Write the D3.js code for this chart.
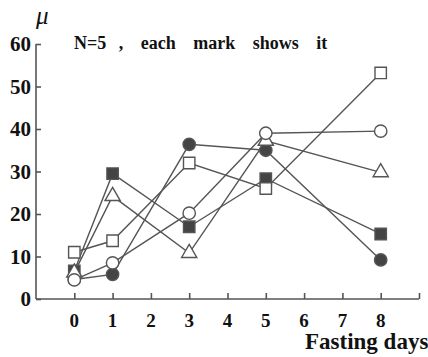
<!DOCTYPE html>
<meta charset="utf-8">
<head>
  <title>Fasting days</title>
</head>
<style>
body { margin: 0; background: #fff; }
text { font-family: "Liberation Serif", "DejaVu Serif", serif; font-weight: bold; fill: #111; }
.axis path, .axis line { stroke: #555; stroke-width: 1.6px; }
.series { fill: none; stroke: #555; stroke-width: 1.4px; }
</style>
<body>
<svg width="428" height="357"></svg>
<script src="https://cdnjs.cloudflare.com/ajax/libs/d3/7.8.5/d3.min.js"></script>
<script>
var days = [0, 1, 3, 5, 8];
var xTicks = [0, 1, 2, 3, 4, 5, 6, 7, 8];
var yTicks = [0, 10, 20, 30, 40, 50, 60];

var openSquare   = [11, 13.7, 32, 26, 53.2];
var openCircle   = [4.5, 8.5, 20.2, 39, 39.5];
var openTriangle = [6.2, 24.2, 10.8, 37.2, 29.8];
var fillSquare   = [6.6, 29.5, 17, 28.3, 15.3];
var fillCircle   = [4.6, 5.8, 36.4, 35, 9.2];

// filled marks first so the open ones sit on top
var series = [
  {vals: fillSquare, shape: "square", fill: "#444"},
  {vals: fillCircle, shape: "circle", fill: "#444"},
  {vals: openSquare, shape: "square", fill: "#fff"},
  {vals: openTriangle, shape: "triangle", fill: "#fff"},
  {vals: openCircle, shape: "circle", fill: "#fff"}
];

var svg = d3.select("svg");
var x = d3.scaleLinear().domain([-1, 9]).range([36, 419]);
var y = d3.scaleLinear().domain([0, 60]).range([299, 44]);

// axes, ticks pointing inward
svg.append("g").attr("class", "axis")
  .attr("transform", "translate(0,299)")
  .call(d3.axisTop(x).tickValues(xTicks.concat([9])).tickSize(6).tickFormat(""))
  .call(function(g) { g.select(".domain").attr("d", "M36,0H419"); });

svg.append("g").attr("class", "axis")
  .attr("transform", "translate(36,0)")
  .call(d3.axisRight(y).tickValues(yTicks).tickSize(5).tickFormat(""))
  .call(function(g) { g.select(".domain").attr("d", "M0,44V299"); });

svg.selectAll(".xl").data(xTicks).enter().append("text")
  .attr("x", function(d) { return x(d); })
  .attr("y", 327)
  .attr("text-anchor", "middle")
  .style("font-size", "19px")
  .text(function(d) { return d; });

svg.selectAll(".yl").data(yTicks).enter().append("text")
  .attr("x", 31)
  .attr("y", function(d) { return y(d) + 7; })
  .attr("text-anchor", "end")
  .style("font-size", "21px")
  .text(function(d) { return d; });

svg.append("text").attr("x", 36).attr("y", 24)
  .style("font-size", "25px").style("font-style", "italic").style("font-weight", "normal")
  .text("μ");

svg.append("text").attr("x", 74).attr("y", 49)
  .style("font-size", "18px")
  .style("word-spacing", "13px")
  .attr("xml:space", "preserve")
  .text("N=5\u2002\u2009, each mark shows it");

svg.append("text").attr("x", 305).attr("y", 349)
  .style("font-size", "23px")
  .text("Fasting days");

var line = d3.line()
  .x(function(d, i) { return x(days[i]); })
  .y(function(d) { return y(d); });

series.forEach(function(s) {
  svg.append("path").attr("class", "series").attr("d", line(s.vals));
});

var symbols = {
  square: d3.symbol().type(d3.symbolSquare).size(130),
  circle: d3.symbol().type(d3.symbolCircle).size(120),
  triangle: d3.symbol().type(d3.symbolTriangle).size(100)
};

series.forEach(function(s) {
  svg.selectAll(null).data(s.vals).enter().append("path")
    .attr("d", symbols[s.shape]())
    .attr("transform", function(d, i) { return "translate(" + x(days[i]) + "," + y(d) + ")"; })
    .attr("fill", s.fill)
    .attr("stroke", "#555")
    .attr("stroke-width", 1.4);
});
</script>
</body>
</html>
